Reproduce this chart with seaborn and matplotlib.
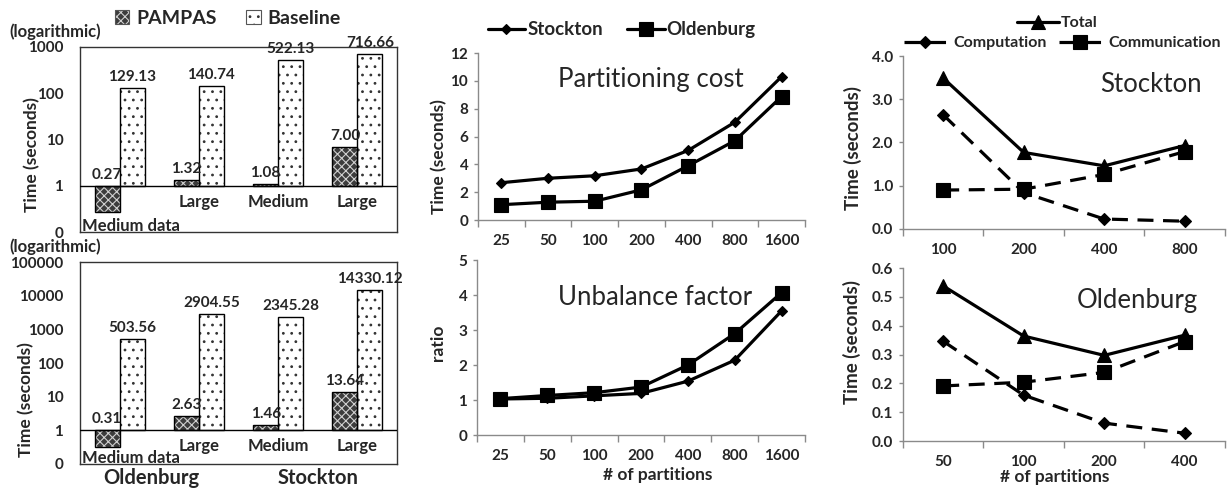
import numpy as np
import pandas as pd
import matplotlib
matplotlib.use("Agg")
import matplotlib.pyplot as plt
import matplotlib.transforms as mtransforms
from matplotlib.patches import Rectangle, Patch
from matplotlib.ticker import MultipleLocator, NullLocator, FormatStrFormatter
import seaborn as sns

# ---- query time, PAMPAS vs. baseline (log scale) ----
groups = ["Oldenburg medium", "Oldenburg large", "Stockton medium", "Stockton large"]
group_labels = ["Medium data", "Large", "Medium", "Large"]
datasets = ["Oldenburg", "Stockton"]
methods = ["PAMPAS", "Baseline"]

pampas_top = [0.27, 1.32, 1.08, 7.00]
baseline_top = [129.13, 140.74, 522.13, 716.66]
pampas_bottom = [0.31, 2.63, 1.46, 13.64]
baseline_bottom = [503.56, 2904.55, 2345.28, 14330.12]

# ---- partitioning cost and unbalance factor ----
partitions_mid = [25, 50, 100, 200, 400, 800, 1600]
cost_stockton = [2.68, 3.0, 3.18, 3.67, 5.0, 7.03, 10.3]
cost_oldenburg = [1.1, 1.28, 1.35, 2.17, 3.9, 5.7, 8.87]
unbalance_stockton = [1.03, 1.05, 1.12, 1.19, 1.54, 2.14, 3.55]
unbalance_oldenburg = [1.04, 1.13, 1.21, 1.37, 2.0, 2.9, 4.07]

# ---- time breakdown per dataset ----
partitions_stockton = [100, 200, 400, 800]
stockton_total = [3.49, 1.77, 1.46, 1.93]
stockton_computation = [2.64, 0.84, 0.23, 0.18]
stockton_communication = [0.9, 0.92, 1.26, 1.79]

partitions_oldenburg = [50, 100, 200, 400]
oldenburg_total = [0.538, 0.364, 0.297, 0.367]
oldenburg_computation = [0.346, 0.159, 0.062, 0.027]
oldenburg_communication = [0.191, 0.204, 0.238, 0.345]

sns.set_theme(style="white")
plt.rcParams["font.family"] = ["Lato", "DejaVu Sans"]
plt.rcParams["font.weight"] = "bold"
plt.rcParams["axes.labelweight"] = "bold"
plt.rcParams["hatch.linewidth"] = 0.8

fig = plt.figure(figsize=(12.31, 4.90), dpi=100)
ax_bt = fig.add_axes([0.065, 0.5265, 0.2575, 0.3776])
ax_bb = fig.add_axes([0.065, 0.0531, 0.2575, 0.412])
ax_mt = fig.add_axes([0.3883, 0.551, 0.2656, 0.3408])
ax_mb = fig.add_axes([0.3875, 0.1122, 0.2665, 0.357])
ax_rt = fig.add_axes([0.7335, 0.5327, 0.2616, 0.353])
ax_rb = fig.add_axes([0.7335, 0.100, 0.2616, 0.353])

BAR_STYLE = {
    "PAMPAS": dict(face="#3c3c3c", hatch_color="#d0d0d0", hatch="xxxx"),
    "Baseline": dict(face="white", hatch_color="#333333", hatch=".."),
}


def bar_panel(ax, pampas, baseline, top_exp, label_y_off):
    df = pd.DataFrame({
        "group": groups * 2,
        "method": [methods[0]] * len(groups) + [methods[1]] * len(groups),
        "time": pampas + baseline,
    })
    ax.set_yscale("log")
    sns.barplot(data=df, x="group", y="time", hue="method", order=groups,
                hue_order=methods, palette={m: BAR_STYLE[m]["face"] for m in methods},
                width=0.63, saturation=1, legend=False, ax=ax)
    for container, method, values in zip(ax.containers, methods, [pampas, baseline]):
        st = BAR_STYLE[method]
        for bar, v in zip(container, values):
            # bars grow from the value-1 axis line, up or down
            bar.set_y(1)
            bar.set_height(v - 1)
            bar.set_facecolor(st["face"])
            bar.set_edgecolor(st["hatch_color"])
            bar.set_hatch(st["hatch"])
            bar.set_linewidth(0)
            ax.add_patch(Rectangle(bar.get_xy(), bar.get_width(), bar.get_height(),
                                   fill=False, edgecolor="black", linewidth=1.0,
                                   zorder=bar.get_zorder() + 0.1))
            cx = bar.get_x() + bar.get_width() / 2
            ax.annotate(f"{v:.2f}", xy=(cx, max(v, 1)), xytext=(0, 3),
                        textcoords="offset points", ha="center", va="bottom",
                        fontsize=11, fontweight="bold")
    ax.axhline(1, color="black", linewidth=1.0, zorder=5)
    ax.set_xlim(-0.5, len(groups) - 0.5)
    ax.set_ylim(0.1, 10 ** top_exp)
    ticks = [10.0 ** e for e in range(-1, top_exp + 1)]
    ax.set_yticks(ticks)
    ax.set_yticklabels(["0"] + [f"{int(t)}" for t in ticks[1:]])
    ax.yaxis.set_minor_locator(NullLocator())
    ax.set_xticks([])
    ax.tick_params(axis="y", length=0, pad=12, labelsize=11)
    ax.set_xlabel("")
    ax.set_ylabel("Time (seconds)", fontsize=12.5)
    ax.yaxis.label.set_va("center")
    for sp in ax.spines.values():
        sp.set_visible(True)
        sp.set_color("#333333")
        sp.set_linewidth(1.0)
    # category names sit just under the value-1 line
    for i, lab in enumerate(group_labels):
        if i == 0:
            ax.annotate(lab, xy=(-0.5, 0.1), xytext=(2, label_y_off),
                        textcoords="offset pixels", ha="left", va="center",
                        fontsize=12, fontweight="bold")
        else:
            ax.annotate(lab, xy=(i, 1), xytext=(0, -16), textcoords="offset pixels",
                        ha="center", va="center", fontsize=12, fontweight="bold")


bar_panel(ax_bt, pampas_top, baseline_top, 3, 6)
bar_panel(ax_bb, pampas_bottom, baseline_bottom, 5, 6)
ax_bt.yaxis.set_label_coords(-0.151, 0.416)
ax_bb.yaxis.set_label_coords(-0.17, 0.317)

blend = mtransforms.blended_transform_factory(ax_bb.transData, ax_bb.transAxes)
for x, name in zip([0.4, 2.5], datasets):
    ax_bb.text(x, -0.07, name, transform=blend, ha="center", va="center",
               fontsize=14.5, fontweight="bold")

fig.text(0.008, 0.935, "(logarithmic)", ha="left", va="center", fontsize=12, fontweight="bold")
fig.text(0.008, 0.496, "(logarithmic)", ha="left", va="center", fontsize=12, fontweight="bold")

bar_handles = []
for m in methods:
    st = BAR_STYLE[m]
    bar_handles.append((Patch(facecolor=st["face"], edgecolor=st["hatch_color"], hatch=st["hatch"], linewidth=0),
                        Patch(fill=False, edgecolor="#555555", linewidth=0.8)))
fig.legend(bar_handles, methods, loc="center", bbox_to_anchor=(0.185, 0.963), ncol=2,
           frameon=False, handlelength=0.75, handleheight=0.75, handletextpad=0.35,
           columnspacing=1.5, prop={"weight": "bold", "size": 14})


def line_panel(ax, cats, series, ymax, ystep, fmt=None):
    xs = [str(c) for c in cats]
    handles = []
    for values, marker, ms, ls in series:
        sns.lineplot(x=xs, y=values, ax=ax, color="black", marker=marker, markersize=ms,
                     linewidth=2.3, linestyle=ls, markeredgecolor="black",
                     markeredgewidth=0.8, errorbar=None, legend=False)
        handles.append(ax.lines[-1])
    n = len(cats)
    ax.set_xlim(-0.5, n - 0.5)
    ax.set_ylim(0, ymax)
    ax.yaxis.set_major_locator(MultipleLocator(ystep))
    if fmt:
        ax.yaxis.set_major_formatter(FormatStrFormatter(fmt))
    ax.set_xticks(np.arange(-0.5, n, 1.0), minor=True)
    ax.tick_params(axis="x", which="major", length=0, pad=10, labelsize=11)
    ax.tick_params(axis="x", which="minor", bottom=True, length=5, width=1, color="#8a8a8a", direction="out")
    ax.tick_params(axis="y", left=True, length=3, width=1, color="#8a8a8a", direction="out",
                   pad=4, labelsize=11)
    for side in ["top", "right"]:
        ax.spines[side].set_visible(False)
    for side in ["left", "bottom"]:
        ax.spines[side].set_color("#8a8a8a")
        ax.spines[side].set_linewidth(1.0)
    ax.set_xlabel("")
    ax.set_ylabel("")
    return handles


dash = (0, (5, 3))
h_mid = line_panel(ax_mt, partitions_mid,
                   [(cost_stockton, "D", 5.5, "-"), (cost_oldenburg, "s", 9.5, "-")], 12, 2)
line_panel(ax_mb, partitions_mid,
           [(unbalance_stockton, "D", 5.5, "-"), (unbalance_oldenburg, "s", 9.5, "-")], 5, 1)
h_right = line_panel(ax_rt, partitions_stockton,
                     [(stockton_total, "^", 9.5, "-"), (stockton_computation, "D", 6, dash),
                      (stockton_communication, "s", 9.5, dash)], 4.0, 1.0, "%.1f")
line_panel(ax_rb, partitions_oldenburg,
           [(oldenburg_total, "^", 9.5, "-"), (oldenburg_computation, "D", 6, dash),
            (oldenburg_communication, "s", 9.5, dash)], 0.6, 0.1, "%.1f")

for ax, label, size, coords in [
    (ax_mt, "Time (seconds)", 12.5, (-0.12, 0.378)),
    (ax_mb, "ratio", 12.5, (-0.119, 0.526)),
    (ax_rt, "Time (seconds)", 13.5, (-0.155, 0.468)),
    (ax_rb, "Time (seconds)", 13.5, (-0.158, 0.572)),
]:
    ax.set_ylabel(label, fontsize=size)
    ax.yaxis.label.set_va("center")
    ax.yaxis.set_label_coords(*coords)

ax_mb.set_xlabel("# of partitions", fontsize=12.5)
ax_mb.xaxis.set_label_coords(0.55, -0.229)
ax_mb.xaxis.label.set_va("center")
ax_rb.set_xlabel("# of partitions", fontsize=12.5)
ax_rb.xaxis.set_label_coords(0.47, -0.208)
ax_rb.xaxis.label.set_va("center")

ax_mt.text(0.529, 0.84, "Partitioning cost", transform=ax_mt.transAxes, ha="center", va="center",
           fontsize=18.5, fontweight="normal")
ax_mb.text(0.543, 0.789, "Unbalance factor", transform=ax_mb.transAxes, ha="center", va="center",
           fontsize=18.5, fontweight="normal")
ax_rt.text(0.77, 0.838, "Stockton", transform=ax_rt.transAxes, ha="center", va="center",
           fontsize=18.5, fontweight="normal")
ax_rb.text(0.727, 0.815, "Oldenburg", transform=ax_rb.transAxes, ha="center", va="center",
           fontsize=18.5, fontweight="normal")

fig.legend(h_mid, ["Stockton", "Oldenburg"], loc="center", bbox_to_anchor=(0.505, 0.939), ncol=2,
           frameon=False, handlelength=2.0, handletextpad=0.1, columnspacing=1.3,
           prop={"weight": "bold", "size": 13.5})
fig.legend(h_right[:1], ["Total"], loc="center", bbox_to_anchor=(0.859, 0.953), ncol=1,
           frameon=False, handlelength=2.6, handletextpad=0.1,
           prop={"weight": "bold", "size": 11.5})
fig.legend(h_right[1:], ["Computation", "Communication"], loc="center", bbox_to_anchor=(0.863, 0.912),
           ncol=2, frameon=False, handlelength=2.6, handletextpad=0.45, columnspacing=0.8,
           prop={"weight": "bold", "size": 11.5})

fig.savefig("out.png", dpi=100)
